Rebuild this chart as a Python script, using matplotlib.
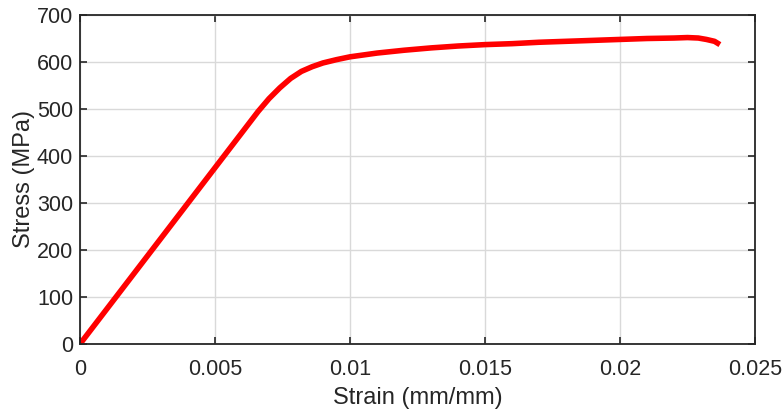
import numpy as np
import matplotlib
matplotlib.use("Agg")
import matplotlib.pyplot as plt

plt.rcParams['font.family'] = ['Liberation Sans', 'DejaVu Sans']

# strain-stress points
strain = [0.0, 0.001, 0.002, 0.003, 0.004, 0.005, 0.006, 0.0066, 0.007,
          0.0074, 0.0078, 0.0082, 0.0086, 0.009, 0.0095, 0.010, 0.0105,
          0.011, 0.012, 0.013, 0.014, 0.015, 0.016, 0.017, 0.018, 0.019,
          0.020, 0.021, 0.022, 0.0225, 0.0229, 0.0232, 0.0235, 0.0237]
stress = [0, 75, 150, 225, 300, 375, 450, 495, 522,
          545, 565, 580, 590, 598, 605, 611, 615,
          619, 625, 630, 634, 637, 639, 642, 644, 646,
          648, 650, 651, 652, 651, 648, 644, 637]

xticks = [0, 0.005, 0.01, 0.015, 0.02, 0.025]
xticklabels = ["0", "0.005", "0.01", "0.015", "0.02", "0.025"]
yticks = [0, 100, 200, 300, 400, 500, 600, 700]

fig = plt.figure(figsize=(7.83, 4.11), dpi=100)
ax = fig.add_axes([80/783, 1 - 344/411, 675/783, 329/411])

ax.plot(strain, stress, color="#ff0000", linewidth=4, solid_capstyle="butt")

ax.set_xlim(0, 0.025)
ax.set_ylim(0, 700)
ax.set_xticks(xticks)
ax.set_xticklabels(xticklabels)
ax.set_yticks(yticks)
ax.grid(True, color="#d9d9d9", linewidth=1)
ax.set_axisbelow(True)

dark = "#262626"
for s in ax.spines.values():
    s.set_color(dark)
    s.set_linewidth(1.3)
ax.tick_params(direction="in", top=True, right=True, length=5, width=1.2,
               colors=dark, labelsize=15.5)
ax.tick_params(axis="x", pad=11)
ax.tick_params(axis="y", pad=5)
ax.set_xlabel("Strain (mm/mm)", fontsize=17, color=dark, labelpad=5)
ax.set_ylabel("Stress (MPa)", fontsize=17, color=dark, labelpad=1)

fig.savefig("out.png", dpi=100)
